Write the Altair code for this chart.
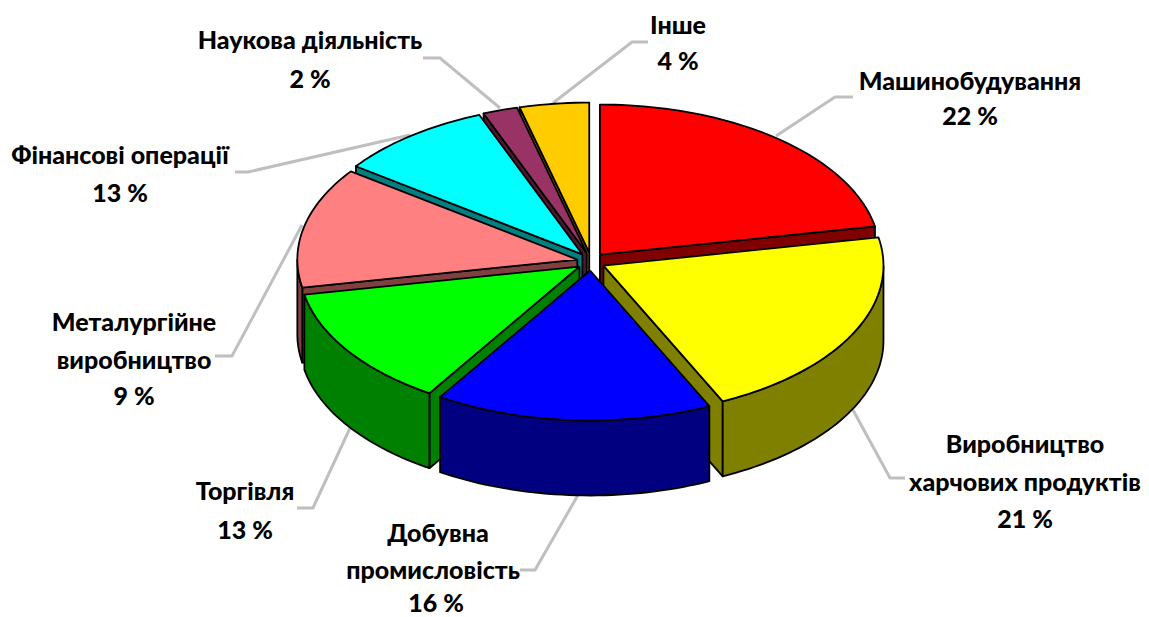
import math
import altair as alt
import pandas as pd

# slice shares as drawn, clockwise from 12 o'clock
slice_names = ["Машинобудування", "Виробництво харчових продуктів", "Добувна промисловість", "Торгівля",
               "Металургійне виробництво", "Фінансові операції", "Наукова діяльність", "Інше"]
slice_shares = [22, 21, 16, 13, 13, 9, 2, 4]
top_colors = ["#FF0000", "#FFFF00", "#0000FF", "#00FF00", "#FF8080", "#00FFFF", "#993366", "#FFCC00"]
side_colors = ["#800000", "#808000", "#000080", "#008000", "#804040", "#008080", "#4D1A33", "#806600"]
paint_order = [7, 6, 5, 4, 0, 1, 3, 2]

# label lines: text, x, y
label_text = ["Машинобудування", "22 %", "Виробництво", "харчових продуктів", "21 %",
              "Добувна", "промисловість", "16 %", "Торгівля", "13 %",
              "Металургійне", "виробництво", "9 %", "Фінансові операції", "13 %",
              "Наукова діяльність", "2 %", "Інше", "4 %"]
label_x = [970, 970, 1025, 1025, 1025, 438, 433, 436, 245, 245, 134, 134, 134, 120, 120, 310, 310, 678, 678]
label_y = [82, 117, 445, 483, 520, 534, 571, 604, 492, 531, 323, 361, 397, 156, 194, 41, 80, 26, 62]

leader_x = [[776, 835, 853], [853, 890, 905], [578, 535, 520], [350, 313, 297],
            [302, 232, 215], [410, 248, 235], [500, 440, 423], [553, 632, 648]]
leader_y = [[136, 97, 97], [410, 478, 478], [495, 570, 570], [428, 508, 508],
            [225, 356, 356], [135, 172, 172], [108, 58, 58], [103, 42, 42]]

W, H = 1133, 600
CX, CY, RX, RY = 591, 261.5, 280, 150
EX, EY, DEPTH = 14, 9, 75

x_enc = alt.X("x:Q", scale=alt.Scale(domain=[8, 8 + W]), axis=None)
y_enc = alt.Y("y:Q", scale=alt.Scale(domain=[8, 8 + H], reverse=True), axis=None)


def polygon(points, fill):
    pts = points + [points[0]]
    df = pd.DataFrame({"x": [p[0] for p in pts], "y": [p[1] for p in pts], "i": range(len(pts))})
    return alt.Chart(df).mark_line(fill=fill, stroke="black", strokeWidth=1.8, strokeJoin="round").encode(
        x=x_enc, y=y_enc, order="i:Q")


def arc(ax, ay, a0, a1, dy=0.0):
    n = max(2, int(abs(a1 - a0) / 1.5) + 1)
    out = []
    for k in range(n + 1):
        t = math.radians(a0 + (a1 - a0) * k / n)
        out.append((ax + RX * math.sin(t), ay - RY * math.cos(t) + dy))
    return out


layers = []
for lx, ly in zip(leader_x, leader_y):
    df = pd.DataFrame({"x": lx, "y": ly, "i": range(len(lx))})
    layers.append(alt.Chart(df).mark_line(color="#BFBFBF", strokeWidth=3).encode(x=x_enc, y=y_enc, order="i:Q"))

total = sum(slice_shares)
starts = [sum(slice_shares[:i]) / total * 360 for i in range(len(slice_shares))]
for i in paint_order:
    a0 = starts[i]
    a1 = a0 + slice_shares[i] / total * 360
    mid = math.radians((a0 + a1) / 2)
    ax = CX + EX * math.sin(mid)
    ay = CY - EY * math.cos(mid)
    apex = (ax, ay)
    # cut faces: only those turned towards the viewer
    faces = []
    if math.sin(math.radians(a0)) < -1e-9:
        faces.append(a0)
    if math.sin(math.radians(a1)) > 1e-9:
        faces.append(a1)
    for a in faces:
        rim = arc(ax, ay, a, a)[0]
        layers.append(polygon([apex, rim, (rim[0], rim[1] + DEPTH), (ax, ay + DEPTH)], side_colors[i]))
    # outer wall (front half only)
    w0, w1 = max(a0, 90), min(a1, 270)
    if w1 > w0:
        layers.append(polygon(arc(ax, ay, w0, w1) + arc(ax, ay, w1, w0, DEPTH), side_colors[i]))
    # top face
    layers.append(polygon([apex] + arc(ax, ay, a0, a1), top_colors[i]))

labels = pd.DataFrame({"t": label_text, "x": label_x, "y": label_y})
layers.append(alt.Chart(labels).mark_text(font="Lato", fontWeight=900, fontSize=25, color="black",
                                          align="center", baseline="middle").encode(x=x_enc, y=y_enc, text="t:N"))

chart = alt.layer(*layers).properties(width=W, height=H, padding=0, background="white").configure_view(stroke=None)
chart.save("out.html", embed_options={"renderer": "svg", "actions": False})
